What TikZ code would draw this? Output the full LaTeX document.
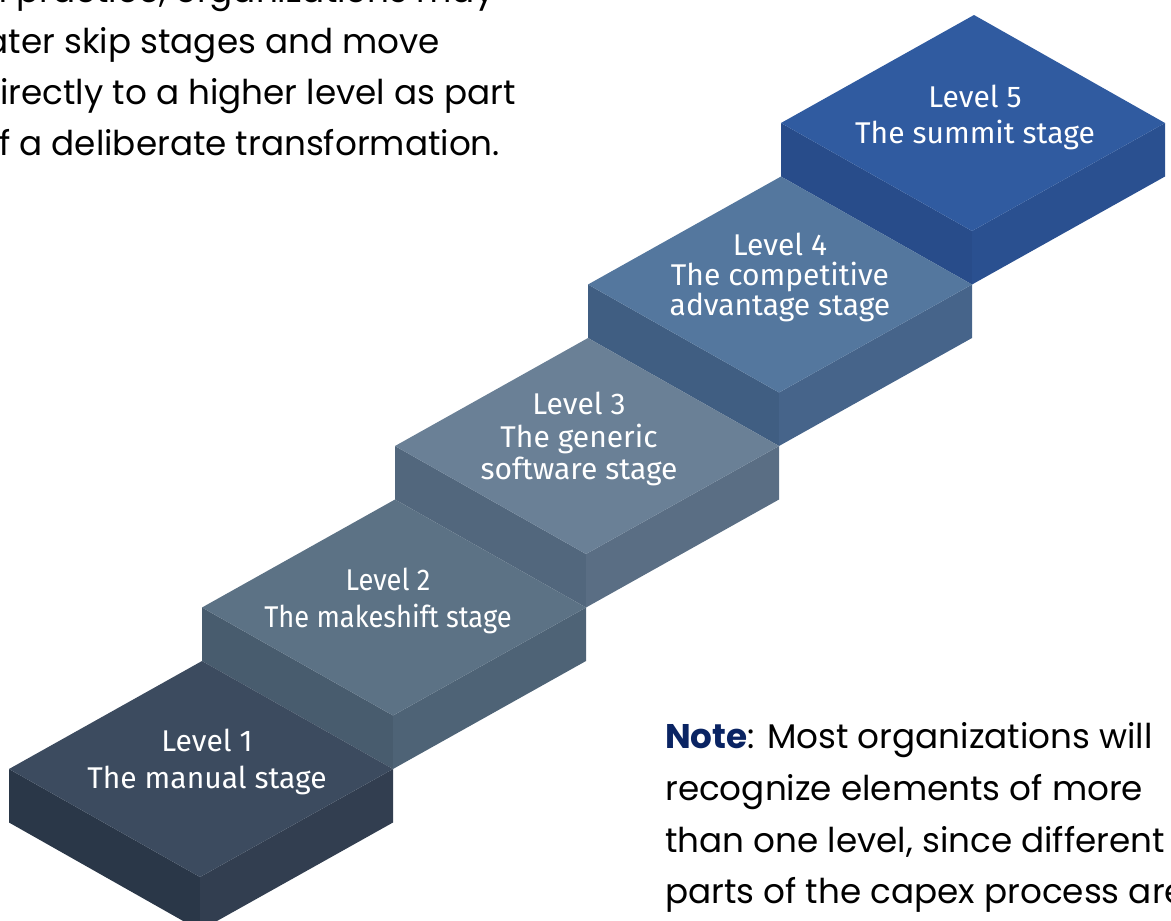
\documentclass[tikz,border=0pt]{standalone}
\usepackage{fontspec}
\setmainfont{Poppins}
\newfontfamily\lblfont{Fira Sans}
\newfontfamily\lblnarrow[FakeStretch=0.91]{Fira Sans}
\definecolor{sa}{HTML}{3C4B5F}\definecolor{sal}{HTML}{2A3748}\definecolor{sar}{HTML}{323E50}
\definecolor{sb}{HTML}{5C7285}\definecolor{sbl}{HTML}{485C6E}\definecolor{sbr}{HTML}{4E6376}
\definecolor{sc}{HTML}{6A8096}\definecolor{scl}{HTML}{52677D}\definecolor{scr}{HTML}{5A6E84}
\definecolor{sd}{HTML}{54779E}\definecolor{sdl}{HTML}{405E82}\definecolor{sdr}{HTML}{46648A}
\definecolor{se}{HTML}{305BA0}\definecolor{sel}{HTML}{284C8A}\definecolor{ser}{HTML}{2A5090}
\definecolor{navy}{HTML}{0A2463}
\newcommand\stair[5]{%
  \fill[#4] (#1,#2) -- ++(191,108) -- ++(0,53.5) -- ++(-191,-108) -- cycle;
  \fill[#5] (#1+191,#2+108) -- ++(193,-108) -- ++(0,53.5) -- ++(-193,108) -- cycle;
  \fill[#3] (#1,#2) -- ++(193,-108) -- ++(191,108) -- ++(-193,108) -- cycle;}
\tikzset{
  lbl/.style={text=white, align=center, inner sep=0pt},
  body/.style={anchor=base west, inner sep=0pt, text=black, font=\fontsize{25.65}{31}\selectfont}
}
\begin{document}
\begin{tikzpicture}[x=0.75pt,y=-0.75pt]
\useasboundingbox (0,0) rectangle (1171,921);
\clip (0,0) rectangle (1171,921);
\stair{781}{123}{se}{sel}{ser}
\stair{588}{284.5}{sd}{sdl}{sdr}
\stair{395}{446}{sc}{scl}{scr}
\stair{202}{607.5}{sb}{sbl}{sbr}
\stair{9}{769}{sa}{sal}{sar}
\node[lbl, font=\lblfont\fontsize{22.5}{27.75}\selectfont] (lv1) at (207,762) {Level 1\\The manual stage};
\node[lbl, font=\lblnarrow\fontsize{22.5}{27.75}\selectfont] (lv2) at (388,601) {Level 2\\The makeshift stage};
\node[lbl, font=\lblfont\fontsize{22.5}{24.4}\selectfont] (lv3) at (579,439) {Level 3\\The generic\\software stage};
\node[lbl, font=\lblfont\fontsize{22.5}{22.5}\selectfont] (lv4) at (780,277.5) {Level 4\\The competitive\\advantage stage};
\node[lbl, font=\lblfont\fontsize{22.5}{27}\selectfont] (lv5) at (975,117.5) {Level 5\\The summit stage};
\node[body] (t1) at (-23,2) {In practice, organizations may};
\node[body] (t2) at (-23,53) {later skip stages and move};
\node[body] (t3) at (-23,104) {directly to a higher level as part};
\node[body] (t4) at (-23,155) {of a deliberate transformation.};
\node[body] (n1) at (665,748) {{\bfseries\color{navy}Note}: Most organizations will};
\node[body] (n2) at (665,800) {recognize elements of more};
\node[body] (n3) at (665,852) {than one level, since different};
\node[body] (n4) at (665,903) {parts of the capex process are};
\end{tikzpicture}
\end{document}
